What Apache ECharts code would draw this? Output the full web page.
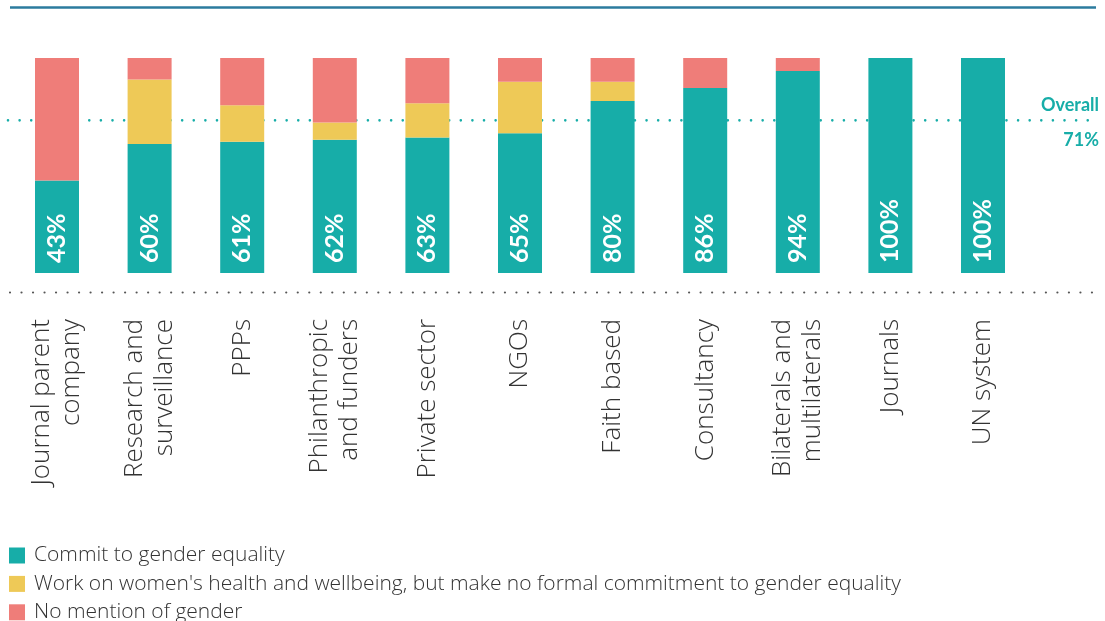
<!DOCTYPE html>
<html>
<head>
<meta charset="utf-8">
<script src="https://cdn.jsdelivr.net/npm/echarts@6/dist/echarts.min.js"></script>
<style>
  html, body { margin: 0; padding: 0; background: #ffffff; }
  #chart { width: 1105px; height: 621px; }
</style>
</head>
<body>
<div id="chart"></div>
<script>
// Organisation types, in display order
const categories = [
  'Journal parent\ncompany',
  'Research and\nsurveillance',
  'PPPs',
  'Philanthropic\nand funders',
  'Private sector',
  'NGOs',
  'Faith based',
  'Consultancy',
  'Bilaterals and\nmultilaterals',
  'Journals',
  'UN system'
];

// Share of organisations (%) in each group
const commitValues    = [43, 60, 61, 62, 63, 65, 80, 86, 94, 100, 100];
const womenValues     = [0, 30, 17, 8, 16, 24, 9, 0, 0, 0, 0];
const noMentionValues = [57, 10, 22, 30, 21, 11, 11, 14, 6, 0, 0];

const seriesNames = [
  'Commit to gender equality',
  "Work on women's health and wellbeing, but make no formal commitment to gender equality",
  'No mention of gender'
];

// Overall share committing to gender equality
const overallValue = 71;
const overallLabel = 'Overall';

const TEAL = '#17ada8';
const YELLOW = '#eec957';
const RED = '#ef7d79';
const TEXT_FONT = 'Open Sans';

const chart = echarts.init(document.getElementById('chart'), null, { renderer: 'canvas' });

const barBase = {
  type: 'bar',
  stack: 'total',
  barWidth: 44,
  xAxisIndex: 0,
  yAxisIndex: 0,
  z: 3
};

const option = {
  animation: false,
  backgroundColor: '#ffffff',
  grid: [
    { left: 10.7, right: 75.7, top: 58, bottom: 348 },
    { left: 8, right: 6, top: 58, bottom: 348 }
  ],
  xAxis: [
    {
      type: 'category',
      gridIndex: 0,
      data: categories,
      axisLine: { show: false },
      axisTick: { show: false },
      axisLabel: {
        rotate: 90,
        margin: 46,
        interval: 0,
        fontFamily: TEXT_FONT,
        fontWeight: 300,
        fontSize: 26,
        lineHeight: 30,
        color: '#333333'
      }
    },
    { type: 'value', gridIndex: 1, min: 0, max: 1, show: false }
  ],
  yAxis: [
    { type: 'value', gridIndex: 0, min: 0, max: 100, show: false },
    { type: 'value', gridIndex: 1, min: 0, max: 100, show: false }
  ],
  legend: {
    orient: 'vertical',
    left: 9,
    top: 545,
    height: 200,
    padding: 0,
    itemWidth: 16,
    itemHeight: 16,
    itemGap: 7.4,
    icon: 'rect',
    selectedMode: false,
    textStyle: {
      fontFamily: TEXT_FONT,
      fontWeight: 300,
      fontSize: 21,
      color: '#333333',
      padding: [0, 0, 0, 4]
    },
    data: seriesNames
  },
  series: [
    Object.assign({}, barBase, {
      name: seriesNames[0],
      data: commitValues,
      itemStyle: { color: TEAL },
      label: {
        show: true,
        position: 'insideBottom',
        rotate: 90,
        align: 'left',
        verticalAlign: 'middle',
        distance: 10,
        formatter: p => p.value + '%',
        color: '#ffffff',
        fontFamily: 'Lato',
        fontWeight: 'bold',
        fontSize: 25
      }
    }),
    Object.assign({}, barBase, {
      name: seriesNames[1],
      data: womenValues,
      itemStyle: { color: YELLOW }
    }),
    Object.assign({}, barBase, {
      name: seriesNames[2],
      data: noMentionValues,
      itemStyle: { color: RED }
    }),
    {
      // Dotted reference line for the overall share, drawn behind the bars
      type: 'line',
      name: 'overall',
      xAxisIndex: 1,
      yAxisIndex: 1,
      z: 1,
      clip: false,
      symbol: 'circle',
      symbolSize: 0.01,
      showSymbol: true,
      showAllSymbol: true,
      silent: true,
      lineStyle: {
        color: TEAL,
        width: 2.6,
        type: [0.01, 11.6],
        cap: 'round'
      },
      itemStyle: { color: TEAL },
      label: { show: false },
      data: [
        [0, overallValue],
        {
          value: [1, overallValue],
          label: {
            show: true,
            position: 'left',
            distance: 0,
            offset: [0, 2],
            formatter: '{o|' + overallLabel + '}\n{g|}\n{v|' + overallValue + '%}',
            rich: {
              o: { fontFamily: 'Lato', fontWeight: 'bold', fontSize: 18, lineHeight: 20, color: TEAL, align: 'right' },
              g: { lineHeight: 15 },
              v: { fontFamily: 'Lato', fontWeight: 'bold', fontSize: 18, lineHeight: 20, color: TEAL, align: 'right' }
            }
          }
        }
      ]
    }
  ],
  graphic: [
    {
      // Header rule
      type: 'line',
      shape: { x1: 10, y1: 7.5, x2: 1096, y2: 7.5 },
      style: { stroke: '#2b7b9e', lineWidth: 2.4 },
      silent: true
    },
    {
      // Dotted separator between bars and category labels
      type: 'line',
      shape: { x1: 10, y1: 292.5, x2: 1100, y2: 292.5 },
      style: { stroke: '#555555', lineWidth: 2.2, lineDash: [0.01, 11.5], lineCap: 'round' },
      silent: true
    }
  ]
};

chart.setOption(option);
</script>
</body>
</html>
